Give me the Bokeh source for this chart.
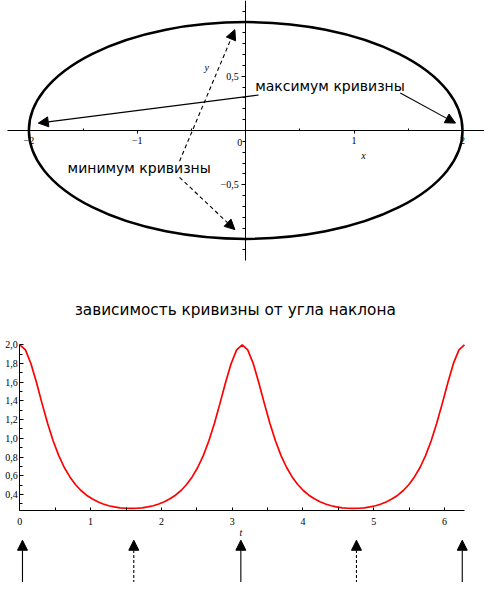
from bokeh.plotting import figure
from bokeh.layouts import column
from bokeh.models import (Range1d, FixedTicker, Arrow, NormalHead, Label,
                          ColumnDataSource)
from bokeh.embed import file_html
from bokeh.resources import INLINE
from bokeh.core.properties import value

# ---------------- data: ellipse panel ----------------
ell_x, ell_y, ell_w, ell_h = [0.0], [0.0], [4.0], [2.0]
ell_xticks = [-2, -1, 1, 2]
ell_xminor = [-1.5, -0.5, 0.5, 1.5]
ell_yticks = [-0.5, 0.5]
ell_yminor = [-1.1, -1.0, -0.9, -0.8, -0.7, -0.6, -0.4, -0.3, -0.2, -0.1, 0.1,
              0.2, 0.3, 0.4, 0.6, 0.7, 0.8, 0.9, 1.0, 1.1]
ell_ylabels = {-0.5: "\u22120,5", 0.5: "0,5"}
ell_xlabels = {-2: "\u22122", -1: "\u22121", 1: "1", 2: "2"}

solid_x0 = [0.12, 1.426]
solid_y0 = [0.327, 0.345]
solid_x1 = [-1.913, 1.935]
solid_y1 = [0.068, 0.068]
dash_x0 = [-0.61, -0.61]
dash_y0 = [-0.283, -0.432]
dash_x1 = [-0.10, -0.10]
dash_y1 = [0.93, -0.914]

ann_text = ["максимум кривизны", "минимум кривизны"]
ann_x = [0.087, -1.643]
ann_y = [0.413, -0.348]

# ---------------- data: curvature panel ----------------
t_vals = [0.000, 0.079, 0.157, 0.236, 0.314, 0.393, 0.471, 0.550, 0.628, 0.707,
          0.785, 0.864, 0.942, 1.021, 1.100, 1.178, 1.257, 1.335, 1.414, 1.492,
          1.571, 1.649, 1.728, 1.806, 1.885, 1.963, 2.042, 2.121, 2.199, 2.278,
          2.356, 2.435, 2.513, 2.592, 2.670, 2.749, 2.827, 2.906, 2.985, 3.063,
          3.142, 3.220, 3.299, 3.377, 3.456, 3.534, 3.613, 3.691, 3.770, 3.848,
          3.927, 4.006, 4.084, 4.163, 4.241, 4.320, 4.398, 4.477, 4.555, 4.634,
          4.712, 4.791, 4.869, 4.948, 5.027, 5.105, 5.184, 5.262, 5.341, 5.419,
          5.498, 5.576, 5.655, 5.733, 5.812, 5.890, 5.969, 6.048, 6.126, 6.205,
          6.283]
k_vals = [2.000, 1.946, 1.798, 1.594, 1.371, 1.158, 0.971, 0.815, 0.688, 0.587,
          0.506, 0.442, 0.392, 0.353, 0.322, 0.298, 0.279, 0.266, 0.257, 0.252,
          0.250, 0.252, 0.257, 0.266, 0.279, 0.298, 0.322, 0.353, 0.392, 0.442,
          0.506, 0.587, 0.688, 0.815, 0.971, 1.158, 1.371, 1.594, 1.798, 1.946,
          2.000, 1.946, 1.798, 1.594, 1.371, 1.158, 0.971, 0.815, 0.688, 0.587,
          0.506, 0.442, 0.392, 0.353, 0.322, 0.298, 0.279, 0.266, 0.257, 0.252,
          0.250, 0.252, 0.257, 0.266, 0.279, 0.298, 0.322, 0.353, 0.392, 0.442,
          0.506, 0.587, 0.688, 0.815, 0.971, 1.158, 1.371, 1.594, 1.798, 1.946,
          2.000]
k_xticks = [0, 1, 2, 3, 4, 5, 6]
k_xminor = [0.5, 1.5, 2.5, 3.5, 4.5, 5.5]
k_yticks = [0.4, 0.6, 0.8, 1.0, 1.2, 1.4, 1.6, 1.8, 2.0]
k_ylabels = {0.4: "0,4", 0.6: "0,6", 0.8: "0,8", 1.0: "1,0", 1.2: "1,2",
             1.4: "1,4", 1.6: "1,6", 1.8: "1,8", 2.0: "2,0"}
k_yminor = [0.3, 0.5, 0.7, 0.9, 1.1, 1.3, 1.5, 1.7, 1.9]
k_axis_y = 0.224
mark_t_solid = [0.037, 3.123, 6.252]
mark_t_dash = [1.61, 4.757]
mark_y0 = -0.60
mark_y1 = -0.09
title_text = "зависимость кривизны от угла наклона"

SANS = "DejaVu Sans"
SERIF = "Liberation Serif"
INK = "black"


def style_axis(ax):
    ax.major_label_text_font = SERIF
    ax.major_label_text_font_size = "10px"
    ax.major_label_text_color = INK
    ax.axis_line_color = INK
    ax.major_tick_line_color = INK
    ax.minor_tick_line_color = INK


# ================= top figure =================
p1 = figure(width=484, height=290, x_range=Range1d(-2.2616, 2.2027),
            y_range=Range1d(-1.4759, 1.1991), output_backend="svg",
            toolbar_location=None, min_border=0, outline_line_color=None)
p1.grid.visible = False
p1.background_fill_color = "white"

p1.ellipse(x=ell_x, y=ell_y, width=ell_w, height=ell_h, fill_color=None,
           line_color=INK, line_width=2.5)

xa = p1.xaxis[0]
style_axis(xa)
xa.fixed_location = 0
xa.bounds = (-2.2, 2.2)
xa.ticker = FixedTicker(ticks=ell_xticks, minor_ticks=ell_xminor)
xa.major_label_overrides = ell_xlabels
xa.major_tick_in = 0
xa.major_tick_out = 3
xa.minor_tick_in = 2
xa.minor_tick_out = 0
xa.major_label_standoff = 4

ya = p1.yaxis[0]
style_axis(ya)
ya.fixed_location = 0
ya.bounds = (-1.2, 1.2)
ya.ticker = FixedTicker(ticks=ell_yticks, minor_ticks=ell_yminor)
ya.major_label_overrides = ell_ylabels
ya.major_tick_in = 0
ya.major_tick_out = 4
ya.minor_tick_in = 0
ya.minor_tick_out = 3
ya.major_label_standoff = 3
ya.major_label_orientation = "horizontal"

for txt, lx, ly, xo, yo in [("0", 0.0, 0.0, -6, -12), ("x", 1.087, -0.229, 0, 0),
                            ("y", -0.36, 0.583, 0, 0)]:
    p1.add_layout(Label(x=lx, y=ly, text=txt, x_offset=xo, y_offset=yo,
                        text_font=SERIF, text_font_size="10px", text_color=INK,
                        text_font_style="normal" if txt == "0" else "italic",
                        text_align="center", text_baseline="middle"))

src_s = ColumnDataSource(dict(x0=solid_x0, y0=solid_y0, x1=solid_x1, y1=solid_y1))
src_d = ColumnDataSource(dict(x0=dash_x0, y0=dash_y0, x1=dash_x1, y1=dash_y1))
p1.add_layout(Arrow(end=NormalHead(size=10, fill_color=INK, line_color=INK),
                    x_start="x0", y_start="y0", x_end="x1", y_end="y1",
                    source=src_s, line_color=INK, line_width=1.1))
p1.add_layout(Arrow(end=NormalHead(size=10, fill_color=INK, line_color=INK),
                    x_start="x0", y_start="y0", x_end="x1", y_end="y1",
                    source=src_d, line_color=INK, line_width=1.1,
                    line_dash="4 3"))

p1.text(x=ann_x, y=ann_y, text=ann_text, text_font=value(SANS),
        text_font_size="14px", text_align="left", text_baseline="middle",
        text_color=INK)

# ================= bottom figure =================
p2 = figure(width=484, height=292, x_range=Range1d(-0.2736, 6.5663),
            y_range=Range1d(-0.5419, 2.5807), output_backend="svg",
            toolbar_location=None, min_border=0, outline_line_color=None)
p2.grid.visible = False

p2.line(t_vals, k_vals, line_color="red", line_width=1.7)

bx = p2.xaxis[0]
style_axis(bx)
bx.fixed_location = k_axis_y
bx.bounds = (0, 6.283)
bx.ticker = FixedTicker(ticks=k_xticks, minor_ticks=k_xminor)
bx.major_tick_in = 3
bx.major_tick_out = 0
bx.minor_tick_in = 3
bx.minor_tick_out = 0
bx.major_label_standoff = 7

by = p2.yaxis[0]
style_axis(by)
by.fixed_location = 0
by.bounds = (k_axis_y, 2.0)
by.ticker = FixedTicker(ticks=k_yticks, minor_ticks=k_yminor)
by.major_label_overrides = k_ylabels
by.major_tick_in = 4
by.major_tick_out = 0
by.minor_tick_in = 3
by.minor_tick_out = 0
by.major_label_standoff = 2
by.major_label_orientation = "horizontal"

p2.add_layout(Label(x=3.123, y=-0.004, text="t", text_font=SERIF,
                    text_font_size="10px", text_font_style="italic",
                    text_color=INK, text_align="center", text_baseline="middle"))
p2.add_layout(Label(x=3.044, y=2.3696, text=title_text, text_font=SANS,
                    text_font_size="15.3px", text_align="center",
                    text_color=INK, text_baseline="middle"))

src_ms = ColumnDataSource(dict(x0=mark_t_solid, x1=mark_t_solid,
                               y0=[mark_y0] * len(mark_t_solid),
                               y1=[mark_y1] * len(mark_t_solid)))
src_md = ColumnDataSource(dict(x0=mark_t_dash, x1=mark_t_dash,
                               y0=[mark_y0] * len(mark_t_dash),
                               y1=[mark_y1] * len(mark_t_dash)))
p2.add_layout(Arrow(end=NormalHead(size=10, fill_color=INK, line_color=INK),
                    x_start="x0", y_start="y0", x_end="x1", y_end="y1",
                    source=src_ms, line_color=INK, line_width=1.1))
p2.add_layout(Arrow(end=NormalHead(size=10, fill_color=INK, line_color=INK),
                    x_start="x0", y_start="y0", x_end="x1", y_end="y1",
                    source=src_md, line_color=INK, line_width=1.1,
                    line_dash="3 2"))

layout = column(p1, p2, spacing=0)
open("out.html", "w").write(file_html(layout, INLINE))
